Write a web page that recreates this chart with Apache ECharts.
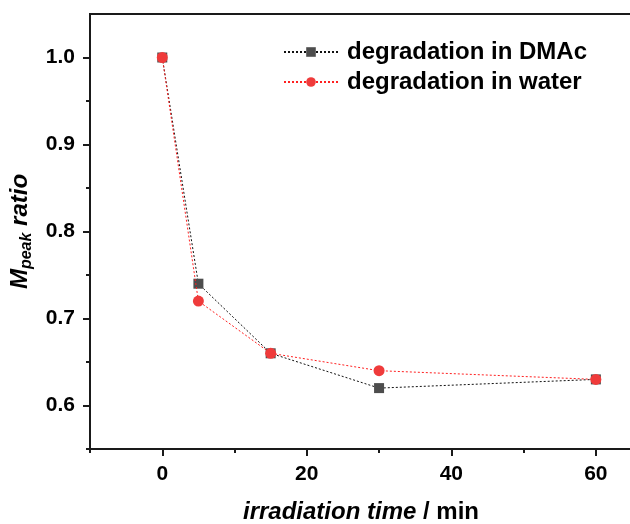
<!DOCTYPE html>
<html>
<head>
<meta charset="utf-8">
<script src="https://cdn.jsdelivr.net/npm/echarts@6/dist/echarts.min.js"></script>
<style>
  html, body { margin: 0; padding: 0; background: #fff; }
  #chart { width: 630px; height: 524px; }
</style>
</head>
<body>
<div id="chart"></div>
<script>
// Irradiation times (min) and normalised peak molar-mass ratio
const times = [0, 5, 15, 30, 60];
const dmacRatio = [1.0, 0.74, 0.66, 0.62, 0.63];
const waterRatio = [1.0, 0.72, 0.66, 0.64, 0.63];

// Tick positions
const xMajorTicks = [0, 20, 40, 60];
const xMinorTicks = [-10, 10, 30, 50];
const yMajorTicks = [0.6, 0.7, 0.8, 0.9, 1.0];
const yMinorTicks = [0.55, 0.65, 0.75, 0.85, 0.95];

const FONT = '"Liberation Sans", Arial, Helvetica, sans-serif';
const AXIS_COLOR = '#1a1a1a';

const pairs = (xs, ys) => xs.map((x, i) => [x, ys[i]]);

const chart = echarts.init(document.getElementById('chart'), null, { renderer: 'canvas' });

const xRange = { min: -10, max: 65 };
const yRange = { min: 0.55, max: 1.05 };

const tickLabel = { fontFamily: FONT, fontWeight: 'bold', fontSize: 21, color: '#000' };
const titleText = { fontFamily: FONT, fontWeight: 'bold', fontSize: 24, color: '#000' };

chart.setOption({
  animation: false,
  backgroundColor: '#ffffff',
  grid: {
    left: 90, top: 14, width: 542, height: 435,
    outerBoundsMode: 'none', containLabel: false,
    show: true, borderColor: AXIS_COLOR, borderWidth: 2, backgroundColor: 'transparent'
  },
  legend: {
    left: 278, top: 35, orient: 'vertical',
    itemWidth: 54, itemHeight: 12, itemGap: 6,
    textStyle: { fontFamily: FONT, fontWeight: 'bold', fontSize: 24, color: '#000', padding: [0, 0, 0, 4] },
    data: ['degradation in DMAc', 'degradation in water']
  },
  xAxis: [
    {
      type: 'value', ...xRange, position: 'bottom',
      axisLine: { show: true, onZero: false, lineStyle: { color: AXIS_COLOR, width: 2 } },
      axisTick: { show: true, length: 7, customValues: xMajorTicks, lineStyle: { color: AXIS_COLOR, width: 2 } },
      axisLabel: { customValues: xMajorTicks, margin: 15, ...tickLabel },
      splitLine: { show: false },
      name: '{i|irradiation time}{n| / min}',
      nameLocation: 'middle', nameGap: 51,
      nameTextStyle: {
        rich: {
          i: { ...titleText, fontStyle: 'italic' },
          n: { ...titleText }
        }
      }
    },
    {
      type: 'value', ...xRange, position: 'bottom',
      axisLine: { show: false, onZero: false },
      axisTick: { show: true, length: 4, customValues: xMinorTicks, lineStyle: { color: AXIS_COLOR, width: 2 } },
      axisLabel: { show: false },
      splitLine: { show: false }
    }
  ],
  yAxis: [
    {
      type: 'value', ...yRange, position: 'left',
      axisLine: { show: true, onZero: false, lineStyle: { color: AXIS_COLOR, width: 2 } },
      axisTick: { show: true, length: 7, customValues: yMajorTicks, lineStyle: { color: AXIS_COLOR, width: 2 } },
      axisLabel: { customValues: yMajorTicks, margin: 15, formatter: v => v.toFixed(1), ...tickLabel },
      splitLine: { show: false },
      name: '{m|M}{s|peak}{r| ratio}',
      nameLocation: 'middle', nameGap: 51, nameRotate: 90,
      nameTextStyle: {
        rich: {
          m: { ...titleText, fontStyle: 'italic' },
          s: { ...titleText, fontStyle: 'italic', fontSize: 16, padding: [13, 0, 0, 0] },
          r: { ...titleText, fontStyle: 'italic' }
        }
      }
    },
    {
      type: 'value', ...yRange, position: 'left',
      axisLine: { show: false, onZero: false },
      axisTick: { show: true, length: 4, customValues: yMinorTicks, lineStyle: { color: AXIS_COLOR, width: 2 } },
      axisLabel: { show: false },
      splitLine: { show: false }
    }
  ],
  series: [
    {
      name: 'degradation in DMAc', type: 'line',
      xAxisIndex: 0, yAxisIndex: 0,
      data: pairs(times, dmacRatio),
      symbol: 'rect', symbolSize: 10,
      itemStyle: { color: '#4d4d4d' },
      lineStyle: { color: '#111111', width: 1, type: [2, 2] },
      z: 2
    },
    {
      name: 'degradation in water', type: 'line',
      xAxisIndex: 0, yAxisIndex: 0,
      data: pairs(times, waterRatio),
      symbol: 'circle', symbolSize: 11,
      itemStyle: { color: '#ef3b3b' },
      lineStyle: { color: '#ff2020', width: 1, type: [2, 2] },
      z: 3
    }
  ]
});
</script>
</body>
</html>
